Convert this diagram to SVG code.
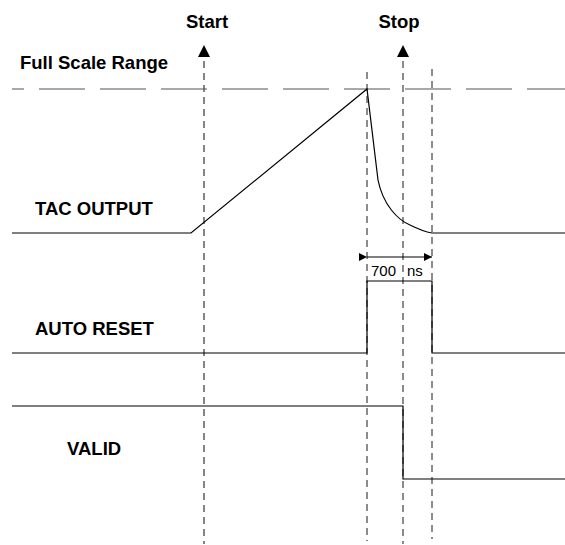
<svg xmlns="http://www.w3.org/2000/svg" width="565" height="545" viewBox="0 0 565 545">
<style>
.lbl{font-family:"Liberation Sans",Arial,sans-serif;font-weight:bold;font-size:18.5px;fill:#000}
.sm{font-family:"Liberation Sans",Arial,sans-serif;font-size:15px;fill:#000}
.sig{fill:none;stroke:#000;stroke-width:1.2}
.vd{fill:none;stroke:#666;stroke-width:1.5;stroke-dasharray:7 5}
.fs{fill:none;stroke:#555;stroke-width:1.2;stroke-dasharray:46 15;stroke-dashoffset:34}
</style>
<defs>
<marker id="ah" markerWidth="8" markerHeight="8" refX="8" refY="4" orient="auto" markerUnits="userSpaceOnUse">
<path d="M0,0 L8,4 L0,8 Z" fill="#000"/>
</marker>
</defs>
<rect width="565" height="545" fill="#fff"/>
<g id="labels">
<text class="lbl" x="207" y="28" text-anchor="middle">Start</text>
<text class="lbl" x="399" y="28" text-anchor="middle">Stop</text>
<text class="lbl" x="20" y="69">Full Scale Range</text>
<text class="lbl" x="35" y="215">TAC OUTPUT</text>
<text class="lbl" x="35" y="335">AUTO RESET</text>
<text class="lbl" x="67" y="455">VALID</text>
</g>
<g id="markers">
<path d="M204,45 L198,57 L210,57 Z" fill="#000"/>
<path d="M403,45 L397,57 L409,57 Z" fill="#000"/>
<line class="vd" x1="204" y1="61" x2="204" y2="544" style="stroke:#444;stroke-width:1.3"/>
<line class="vd" x1="403" y1="61" x2="403" y2="544"/>
<line class="vd" x1="367" y1="72" x2="367" y2="541"/>
<line class="vd" x1="432" y1="69" x2="432" y2="539"/>
</g>
<g id="fullscale">
<line class="fs" x1="12" y1="89" x2="565" y2="89"/>
</g>
<g id="tac-output">
<path class="sig" d="M12,233 L191,233 L367,89 L378,180 C383,205 398,220 410,225 C420,230 426,232 432,233 L565,233"/>
</g>
<g id="auto-reset">
<path class="sig" d="M12,353 L367,353 L367,281 L432,281 L432,353 L565,353"/>
</g>
<g id="valid">
<path class="sig" d="M12,406 L403,406 L403,479 L565,479"/>
</g>
<g id="connectors">
<line x1="367" y1="257" x2="432" y2="257" stroke="#000" stroke-width="1.2" marker-start="url(#ah)" marker-end="url(#ah)"/>
<text class="sm" x="371" y="276">700</text>
<text class="sm" x="407" y="276">ns</text>
</g>
</svg>
